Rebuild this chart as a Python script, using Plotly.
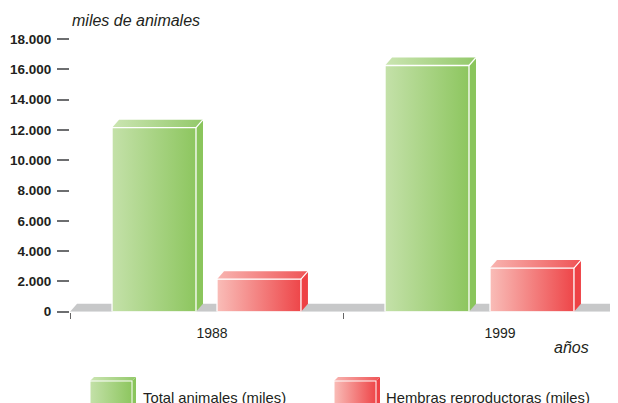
import plotly.graph_objects as go

# ---------------- data ----------------
years = ["1988", "1999"]
total_animales = [12150, 16250]
hembras_reproductoras = [2150, 2880]
series_names = ["Total animales (miles)", "Hembras reproductoras (miles)"]
y_tick_values = [0, 2000, 4000, 6000, 8000, 10000, 12000, 14000, 16000, 18000]
y_title = "miles de animales"
x_title = "años"

# ---------------- style ----------------
OFF = 8                      # page body margin of the html page
FW, FH = 618 - OFF, 403 - OFF
PL, PR, PT, PB = 70, 616, 39, 311.7          # plot area in (page) pixels
X_RANGE = [-0.5, 1.5]
Y_RANGE = [0, 18000]
px_x = (PR - PL) / (X_RANGE[1] - X_RANGE[0])
px_y = (PB - PT) / (Y_RANGE[1] - Y_RANGE[0])
DX = 7 / px_x       # depth offset (x units)
DY = 8 / px_y       # depth offset (y units)
BAR_OFFSETS = [(-0.346, -0.0385), (0.0385, 0.346)]
LABEL_SHIFT = [0.02, 0.075]  # label x shift per category

GREEN = dict(front=["#c4e1a9", "#8dc65f"], top=["#cbe5b2", "#93c96a"], side="#8ac55c")
RED = dict(front=["#f9bdb8", "#ee4649"], top=["#f8b4b0", "#ef5456"], side="#ee4145")
STYLES = [GREEN, RED]
FLOOR = "#c7c8c9"
SANS = "Liberation Sans, Arial, sans-serif"


def pxp(px):
    return (px - OFF) / FW


def pyp(py):
    return 1 - (py - OFF) / FH


fig = go.Figure()


def poly(xs, ys, fillcolor=None, grad=None, line=None, xaxis="x", yaxis="y"):
    kw = dict(x=xs, y=ys, mode="lines", fill="toself", hoverinfo="skip",
              showlegend=False, xaxis=xaxis, yaxis=yaxis)
    if line is None:
        kw["line"] = dict(width=0, color="rgba(0,0,0,0)")
    else:
        kw["line"] = line
    if grad is not None:
        kw["fillgradient"] = dict(type="horizontal",
                                  colorscale=[[0, grad[0]], [1, grad[1]]])
        kw["fillcolor"] = grad[1]
    else:
        kw["fillcolor"] = fillcolor
    fig.add_trace(go.Scatter(**kw))


# floor
x0f, x1f = X_RANGE
poly([x0f, x1f, x1f + DX, x0f + DX, x0f], [0, 0, DY, DY, 0], fillcolor=FLOOR)

# bars
for si, values in enumerate([total_animales, hembras_reproductoras]):
    st = STYLES[si]
    for ci, v in enumerate(values):
        a, b = BAR_OFFSETS[si]
        x0, x1 = ci + a, ci + b
        poly([x1, x1 + DX, x1 + DX, x1, x1], [0, DY, v + DY, v, 0], fillcolor=st["side"])
        poly([x0, x1, x1 + DX, x0 + DX, x0], [v, v, v + DY, v + DY, v], grad=st["top"])
        poly([x0, x1, x1, x0, x0], [0, 0, v, v, 0], grad=st["front"],
             line=dict(color="white", width=1.3))
        fig.add_trace(go.Scatter(x=[x1, x1 + DX], y=[v, v + DY], mode="lines",
                                 line=dict(color="white", width=1.2),
                                 hoverinfo="skip", showlegend=False))

# x tick marks (separate overlay axis)
fig.add_trace(go.Scatter(x=[X_RANGE[0]], y=[0], mode="markers", marker=dict(opacity=0),
                         xaxis="x2", yaxis="y", hoverinfo="skip", showlegend=False))

# legend glyphs (pixel space axis)
leg_x = [90, 334]
leg_w, leg_dx, leg_dy, leg_top = 42, 4, 4, 381
for si in range(2):
    st = STYLES[si]
    gx0 = leg_x[si]
    gx1 = gx0 + leg_w
    bot = 412
    poly([gx1, gx1 + leg_dx, gx1 + leg_dx, gx1, gx1],
         [leg_top, leg_top - leg_dy, bot, bot, leg_top],
         fillcolor=st["side"], xaxis="x3", yaxis="y3")
    poly([gx0, gx1, gx1 + leg_dx, gx0 + leg_dx, gx0],
         [leg_top, leg_top, leg_top - leg_dy, leg_top - leg_dy, leg_top],
         grad=st["top"], xaxis="x3", yaxis="y3")
    poly([gx0, gx1, gx1, gx0, gx0], [leg_top, leg_top, bot, bot, leg_top],
         grad=st["front"], line=dict(color="white", width=1),
         xaxis="x3", yaxis="y3")

annotations = [
    dict(text=y_title, x=pxp(70), y=pyp(20.5), xref="paper", yref="paper",
         xanchor="left", yanchor="middle", showarrow=False,
         font=dict(family=SANS, size=16, color="#231f20", style="italic")),
    dict(text=x_title, x=pxp(591), y=pyp(347), xref="paper", yref="paper",
         xanchor="right", yanchor="middle", showarrow=False,
         font=dict(family=SANS, size=16, color="#231f20", style="italic")),
]
leg_text_x = [141, 384]
for si in range(2):
    annotations.append(dict(text=series_names[si], x=pxp(leg_text_x[si]), y=pyp(398),
                            xref="paper", yref="paper", xanchor="left", yanchor="middle",
                            showarrow=False,
                            font=dict(family=SANS, size=14.8, color="#231f20")))

fig.update_layout(
    width=FW, height=FH,
    margin=dict(l=0, r=0, t=0, b=0, pad=0),
    paper_bgcolor="white", plot_bgcolor="rgba(0,0,0,0)",
    template="none",
    separators=",.",
    showlegend=False,
    annotations=annotations,
    xaxis=dict(domain=[pxp(PL), pxp(PR)], range=X_RANGE, anchor="y",
               tickvals=[i + s for i, s in enumerate(LABEL_SHIFT)], ticktext=years,
               ticks="outside", ticklen=8, tickcolor="rgba(0,0,0,0)",
               showgrid=False, zeroline=False, showline=False, automargin=False,
               tickfont=dict(family=SANS, size=14, color="#231f20")),
    xaxis2=dict(domain=[pxp(PL), pxp(PR)], range=X_RANGE, anchor="y", overlaying="x",
                side="bottom", tickvals=[-0.5, 0.5, 1.5], ticks="outside", ticklen=6,
                tickwidth=1, tickcolor="#666666", showticklabels=False,
                showgrid=False, zeroline=False, showline=False, automargin=False),
    yaxis=dict(domain=[pyp(PB), pyp(PT)], range=Y_RANGE, anchor="x",
               tickvals=y_tick_values, tickformat=",d",
               ticks="outside", ticklen=12, tickwidth=1.5, tickcolor="#6d6e70",
               ticklabelstandoff=3,
               showgrid=False, zeroline=False, showline=False, automargin=False,
               tickfont=dict(family=SANS, size=13.5, color="#231f20", weight="bold")),
    xaxis3=dict(domain=[0, 1], range=[OFF, OFF + FW], anchor="y3", visible=False,
                fixedrange=True),
    yaxis3=dict(domain=[0, 1], range=[OFF + FH, OFF], anchor="x3", visible=False,
                fixedrange=True),
)

fig.write_html("out.html")
